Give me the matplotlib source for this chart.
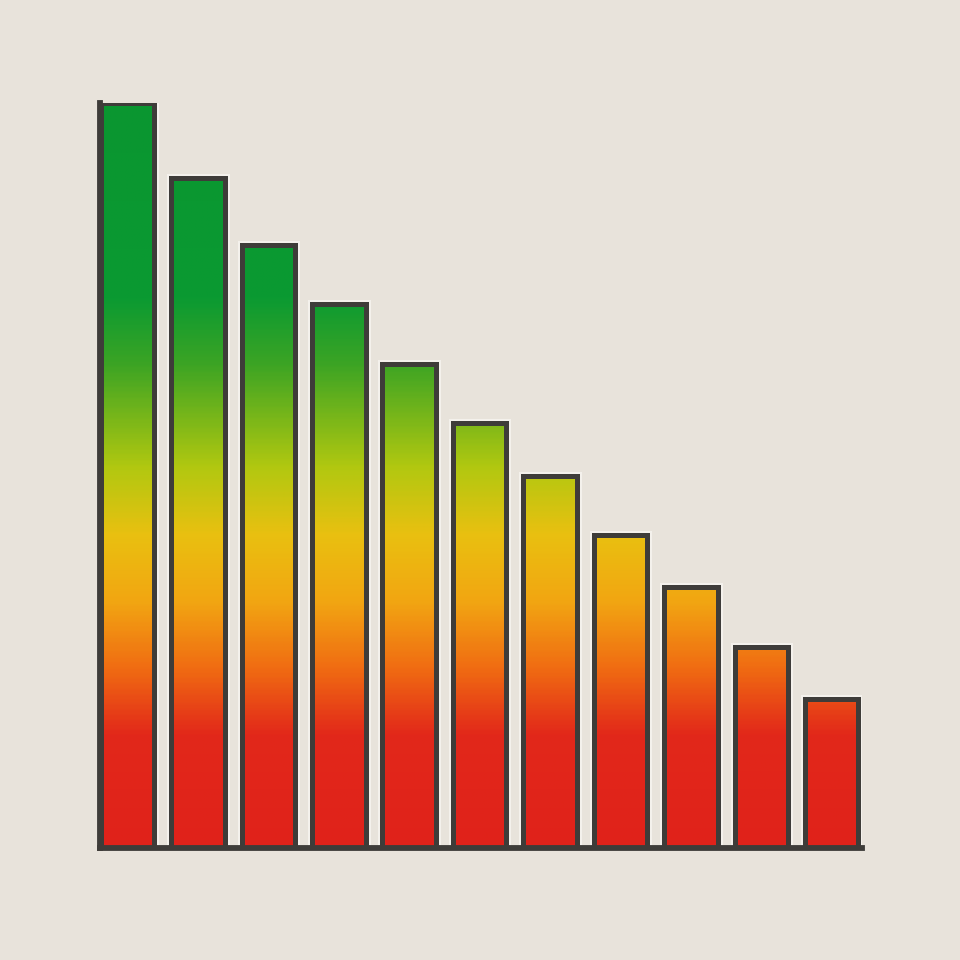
import numpy as np
import matplotlib
matplotlib.use("Agg")
import matplotlib.pyplot as plt
from matplotlib.colors import LinearSegmentedColormap

# valores de las barras (de mayor a menor)
posiciones = np.arange(11)
valores = [100, 90, 81, 73, 65, 57, 50, 42, 35, 27, 20]

# paradas del degradado (altura en unidades de datos, color)
alturas_grad = [0, 15, 24, 33, 42, 51, 65, 74, 100]
colores_grad = ["#e0221a", "#e2281a", "#f06c12", "#f2a612", "#e9c010",
                "#b2c810", "#3ca424", "#0a9a32", "#0a9630"]

fondo = "#e8e3db"
borde = "#3e3c39"

cmap = LinearSegmentedColormap.from_list(
    "semaforo", list(zip(np.array(alturas_grad) / 100.0, colores_grad)))

fig = plt.figure(figsize=(9.6, 9.6), dpi=100, facecolor=fondo)
ax = fig.add_axes([100 / 960, 1 - 848 / 960, 762 / 960, 745 / 960])
ax.set_facecolor(fondo)

ancho = 0.76
xmin, xmax = -0.39, 10.43

# halo claro alrededor de las barras
ax.bar(posiciones, valores, width=ancho, facecolor="none",
       edgecolor="#f4f1ec", linewidth=6.5, zorder=1)

# relleno en degradado, recortado a cada barra
grad = np.linspace(0, 1, 400).reshape(-1, 1)
barras = ax.bar(posiciones, valores, width=ancho, facecolor="none",
                edgecolor=borde, linewidth=3.6, zorder=3)
for b in barras:
    im = ax.imshow(grad, cmap=cmap, origin="lower", aspect="auto",
                   extent=[b.get_x(), b.get_x() + b.get_width(), 0, 100],
                   zorder=2, interpolation="bilinear")
    im.set_clip_path(b)
ax.set_xlim(xmin, xmax)
ax.set_ylim(0, 100)

# ejes
for lado in ["top", "right"]:
    ax.spines[lado].set_visible(False)
for lado in ["left", "bottom"]:
    ax.spines[lado].set_color(borde)
    ax.spines[lado].set_linewidth(4.2)
    ax.spines[lado].set_zorder(4)
ax.set_xticks([])
ax.set_yticks([])

fig.savefig("out.png", dpi=100, facecolor=fondo)
